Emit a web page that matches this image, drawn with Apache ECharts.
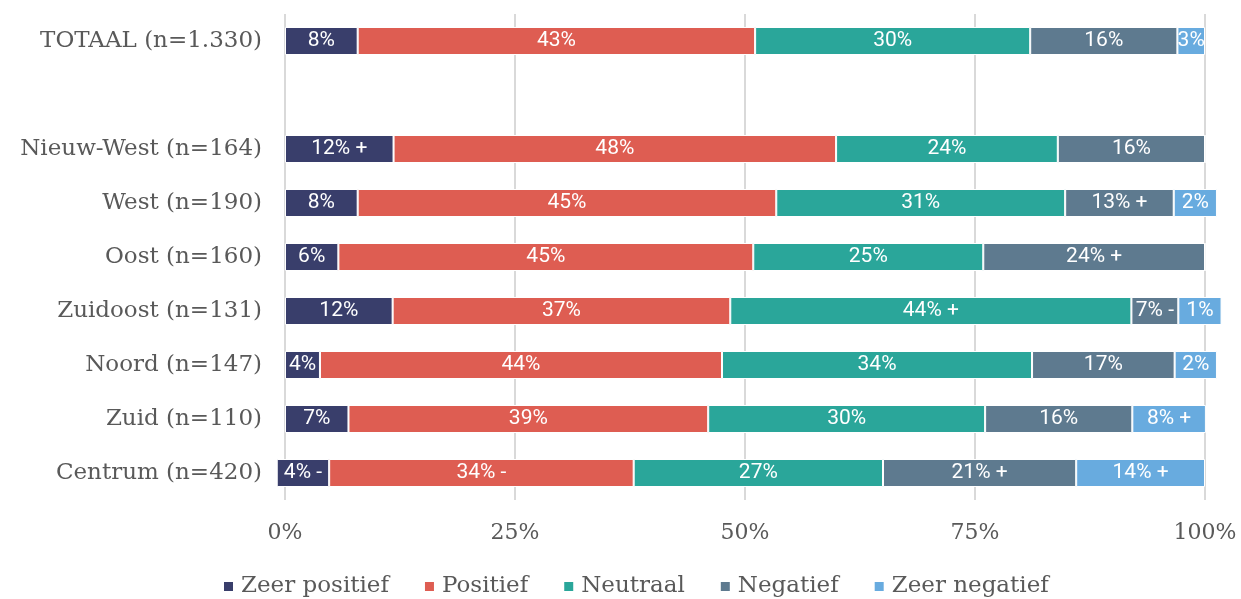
<!DOCTYPE html>
<html>
<head>
<meta charset="utf-8">
<script src="https://cdn.jsdelivr.net/npm/echarts@6/dist/echarts.min.js"></script>
<style>
  html, body { margin: 0; padding: 0; background: #fff; }
  #chart { width: 1241px; height: 599px; }
</style>
</head>
<body>
<div id="chart"></div>
<script>
// categories top to bottom (empty slot between TOTAAL and the districts)
const categories = ['TOTAAL (n=1.330)', '', 'Nieuw-West (n=164)', 'West (n=190)', 'Oost (n=160)',
  'Zuidoost (n=131)', 'Noord (n=147)', 'Zuid (n=110)', 'Centrum (n=420)'];

// bar widths as drawn (%)
const offset       = [0,    null, 0,    0,    0,    0,    0,    0,    -0.9];
const zeerPositief = [7.9,  null, 11.8, 7.9,  5.8,  11.7, 3.8,  6.9,  5.7];
const positief     = [43.2, null, 48.1, 45.5, 45.1, 36.7, 43.7, 39.1, 33.1];
const neutraal     = [29.9, null, 24.1, 31.4, 25.0, 43.6, 33.7, 30.1, 27.1];
const negatief     = [16.0, null, 16.0, 11.8, 24.1, 5.1,  15.5, 16.0, 21.0];
const zeerNegatief = [3.0,  null, 0,    4.7,  0,    4.7,  4.6,  8.0,  14.0];

// printed labels
const lblZeerPositief = ['8%', '', '12% +', '8%', '6%', '12%', '4%', '7%', '4% -'];
const lblPositief     = ['43%', '', '48%', '45%', '45%', '37%', '44%', '39%', '34% -'];
const lblNeutraal     = ['30%', '', '24%', '31%', '25%', '44% +', '34%', '30%', '27%'];
const lblNegatief     = ['16%', '', '16%', '13% +', '24% +', '7% -', '17%', '16%', '21% +'];
const lblZeerNegatief = ['3%', '', '', '2%', '', '1%', '2%', '8% +', '14% +'];

const xTicks = [0, 25, 50, 75, 100];

const serifFont = '"DejaVu Serif", serif';
const textGrey = '#595959';

const makeSeries = (name, data, labels, color) => ({
  name,
  type: 'bar',
  stack: 'total',
  stackStrategy: 'all',
  clip: false,
  barWidth: 28,
  data,
  itemStyle: { color, borderColor: '#fff', borderWidth: 1 },
  label: {
    show: true,
    position: 'inside',
    color: '#fff',
    fontFamily: 'Roboto',
    fontSize: 21,
    formatter: (p) => labels[p.dataIndex] || ''
  }
});

const chart = echarts.init(document.getElementById('chart'));

chart.setOption({
  animation: false,
  grid: { left: 285, right: 36, top: 14, bottom: 99, containLabel: false },
  legend: {
    data: ['Zeer positief', 'Positief', 'Neutraal', 'Negatief', 'Zeer negatief'],
    left: 217,
    top: 570,
    icon: 'rect',
    itemWidth: 11,
    itemHeight: 11,
    itemGap: 34,
    textStyle: { fontFamily: serifFont, fontSize: 23, color: textGrey, padding: [0, 0, 0, 2] }
  },
  xAxis: {
    type: 'value',
    min: xTicks[0],
    max: xTicks[xTicks.length - 1],
    interval: 25,
    axisLine: { show: false },
    axisTick: { show: false },
    splitLine: { lineStyle: { color: '#d9d9d9', width: 2 } },
    axisLabel: {
      formatter: '{value}%',
      fontFamily: serifFont,
      fontSize: 22,
      color: textGrey,
      margin: 22
    }
  },
  yAxis: {
    type: 'category',
    inverse: true,
    data: categories,
    axisLine: { show: false },
    axisTick: { show: false },
    axisLabel: { fontFamily: serifFont, fontSize: 23, color: textGrey, margin: 23 }
  },
  series: [
    {
      name: 'offset',
      type: 'bar',
      stack: 'total',
      stackStrategy: 'all',
      clip: false,
      barWidth: 28,
      silent: true,
      data: offset,
      itemStyle: { color: 'transparent', borderWidth: 0 },
      label: { show: false }
    },
    makeSeries('Zeer positief', zeerPositief, lblZeerPositief, '#393e6b'),
    makeSeries('Positief', positief, lblPositief, '#de5d52'),
    makeSeries('Neutraal', neutraal, lblNeutraal, '#2aa69a'),
    makeSeries('Negatief', negatief, lblNegatief, '#5e7a8f'),
    makeSeries('Zeer negatief', zeerNegatief, lblZeerNegatief, '#68abdf')
  ]
});
</script>
</body>
</html>
